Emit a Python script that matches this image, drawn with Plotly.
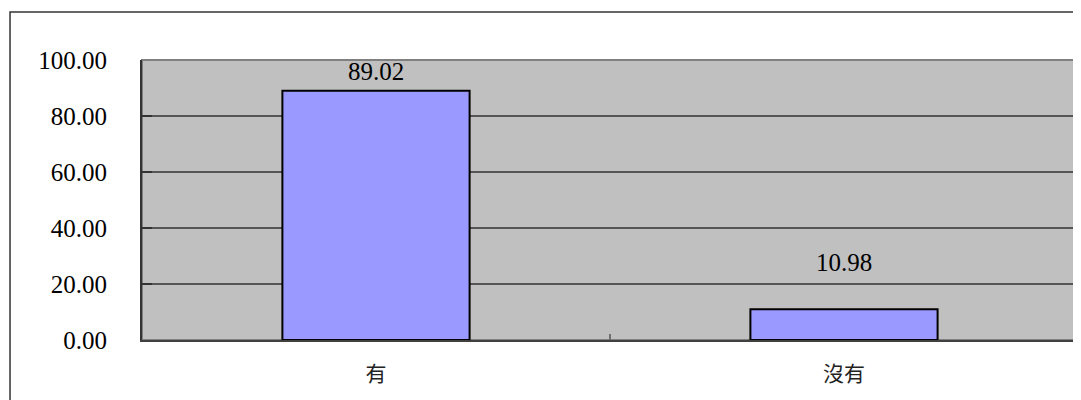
import plotly.graph_objects as go

categories = ["有", "沒有"]
values = [89.02, 10.98]
y_ticks = [0, 20, 40, 60, 80, 100]
y_tick_labels = ["0.00", "20.00", "40.00", "60.00", "80.00", "100.00"]
label_offsets = [19, 47]  # px above bar top, as in reference

fig = go.Figure()
fig.add_trace(go.Bar(
    x=categories, y=values, width=0.40,
    marker=dict(color="#9999FF", line=dict(color="#000000", width=2)),
    hoverinfo="skip",
))

for c, v, off in zip(categories, values, label_offsets):
    fig.add_annotation(x=c, y=v, text=f"{v:.2f}", showarrow=False,
                       yshift=off, xanchor="center", yanchor="middle",
                       font=dict(family="Liberation Serif", size=25, color="#000000"))

fig.update_layout(
    width=1081, height=400,
    margin=dict(l=134, r=11, t=52, b=68),
    paper_bgcolor="white", plot_bgcolor="#C0C0C0",
    showlegend=False,
    shapes=[dict(type="rect", xref="paper", yref="paper",
                 x0=-0.141, x1=1.3, y0=1.171, y1=-0.6,
                 line=dict(color="#333333", width=1.5), layer="below")],
)
fig.update_xaxes(
    type="category", range=[-0.5, 1.5],
    showline=True, linecolor="#404040", linewidth=2, mirror=False,
    ticks="inside", tickson="boundaries", ticklen=6, tickcolor="#707070", tickwidth=2,
    showgrid=False,
    tickfont=dict(family="Noto Sans CJK TC", size=21, color="#222222"),
    ticklabelstandoff=14,
)
fig.update_yaxes(
    range=[0, 100], tickvals=y_ticks, ticktext=y_tick_labels,
    showline=True, linecolor="#333333", linewidth=2,
    ticks="inside", ticklen=10, tickcolor="#333333", tickwidth=2,
    showgrid=True, gridcolor="#555555", gridwidth=1.5,
    zeroline=False,
    tickfont=dict(family="Liberation Serif", size=25, color="#000000"),
    ticklabelstandoff=28,
)
fig.add_shape(type="rect", xref="paper", yref="paper", x0=0, x1=1, y0=0, y1=1,
              line=dict(color="#808080", width=2), layer="below")

fig.write_html("out.html")
